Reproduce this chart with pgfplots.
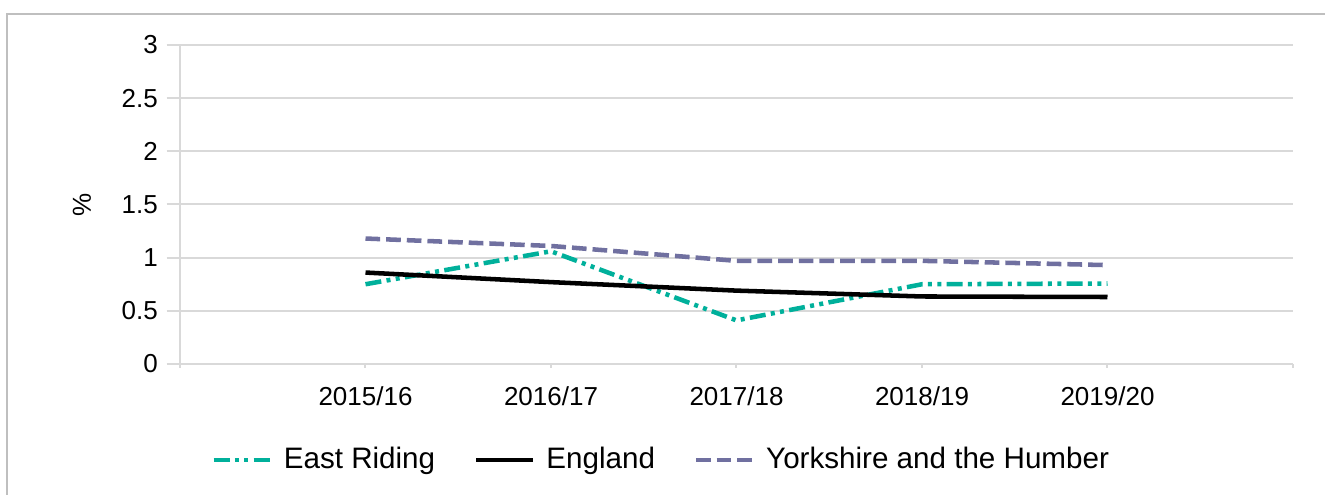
\documentclass[border=0pt]{standalone}
\usepackage{pgfplots}
\pgfplotsset{compat=1.18}
\usepackage{fontspec}
\setmainfont{Liberation Sans}
\definecolor{teal1}{RGB}{0,176,155}
\definecolor{purp}{RGB}{112,112,160}
\definecolor{gridc}{RGB}{217,217,217}
\definecolor{framec}{RGB}{191,191,191}
\begin{document}
\fontsize{19.5}{22}\selectfont
\begin{tikzpicture}
\useasboundingbox (0,0) rectangle (993.75pt,371.25pt);
\draw[framec, line width=1.5pt] (5.25pt,-5pt) -- (5.25pt,360.75pt) -- (1000pt,360.75pt);
\begin{axis}[
  at={(135pt,98.25pt)}, anchor=south west,
  scale only axis, width=834.75pt, height=239.25pt,
  xmin=-1, xmax=5, ymin=0, ymax=3,
  xtick={-1,0,1,2,3,4,5},
  xticklabels={,2015/16,2016/17,2017/18,2018/19,2019/20,},
  ytick={0,0.5,1,1.5,2,2.5,3},
  axis lines*=left,
  axis line style={gridc, line width=1.5pt},
  ymajorgrids, grid style={gridc, line width=1.5pt},
  tick style={gridc, line width=1.5pt},
  tick align=outside,
  major tick length=10pt,
  xtick style={/pgfplots/major tick length=3pt},
  tick label style={font=\fontsize{19.5}{22}\selectfont, text=black},
  /pgf/number format/assume math mode=true,
  ylabel={\%},
  ylabel style={at={(axis description cs:-0.0881,0.5)}, anchor=center, font=\fontsize{19.5}{22}\selectfont},
  legend style={at={(0.4326,-0.301)}, anchor=center, draw=none, fill=none, legend columns=3,
    font=\fontsize{22.2}{24}\selectfont,
    /tikz/every odd column/.append style={column sep=6pt},
    /tikz/every even column/.append style={column sep=27pt}},
  legend image code/.code={\draw[#1] (0pt,0pt) -- (43pt,0pt);},
]
\addplot[teal1, line width=3.4pt, dash pattern=on 12pt off 4pt on 3pt off 4pt on 3pt off 4pt] coordinates {(0,0.75)(1,1.06)(2,0.41)(3,0.75)(4,0.757)};
\addlegendentry{East Riding}
\addplot[black, line width=3.4pt] coordinates {(0,0.86)(1,0.77)(2,0.69)(3,0.635)(4,0.63)};
\addlegendentry{England}
\addplot[purp, line width=3.4pt, dash pattern=on 11pt off 4.5pt] coordinates {(0,1.18)(1,1.11)(2,0.97)(3,0.97)(4,0.93)};
\addlegendentry{Yorkshire and the Humber}
\end{axis}
\end{tikzpicture}
\end{document}
